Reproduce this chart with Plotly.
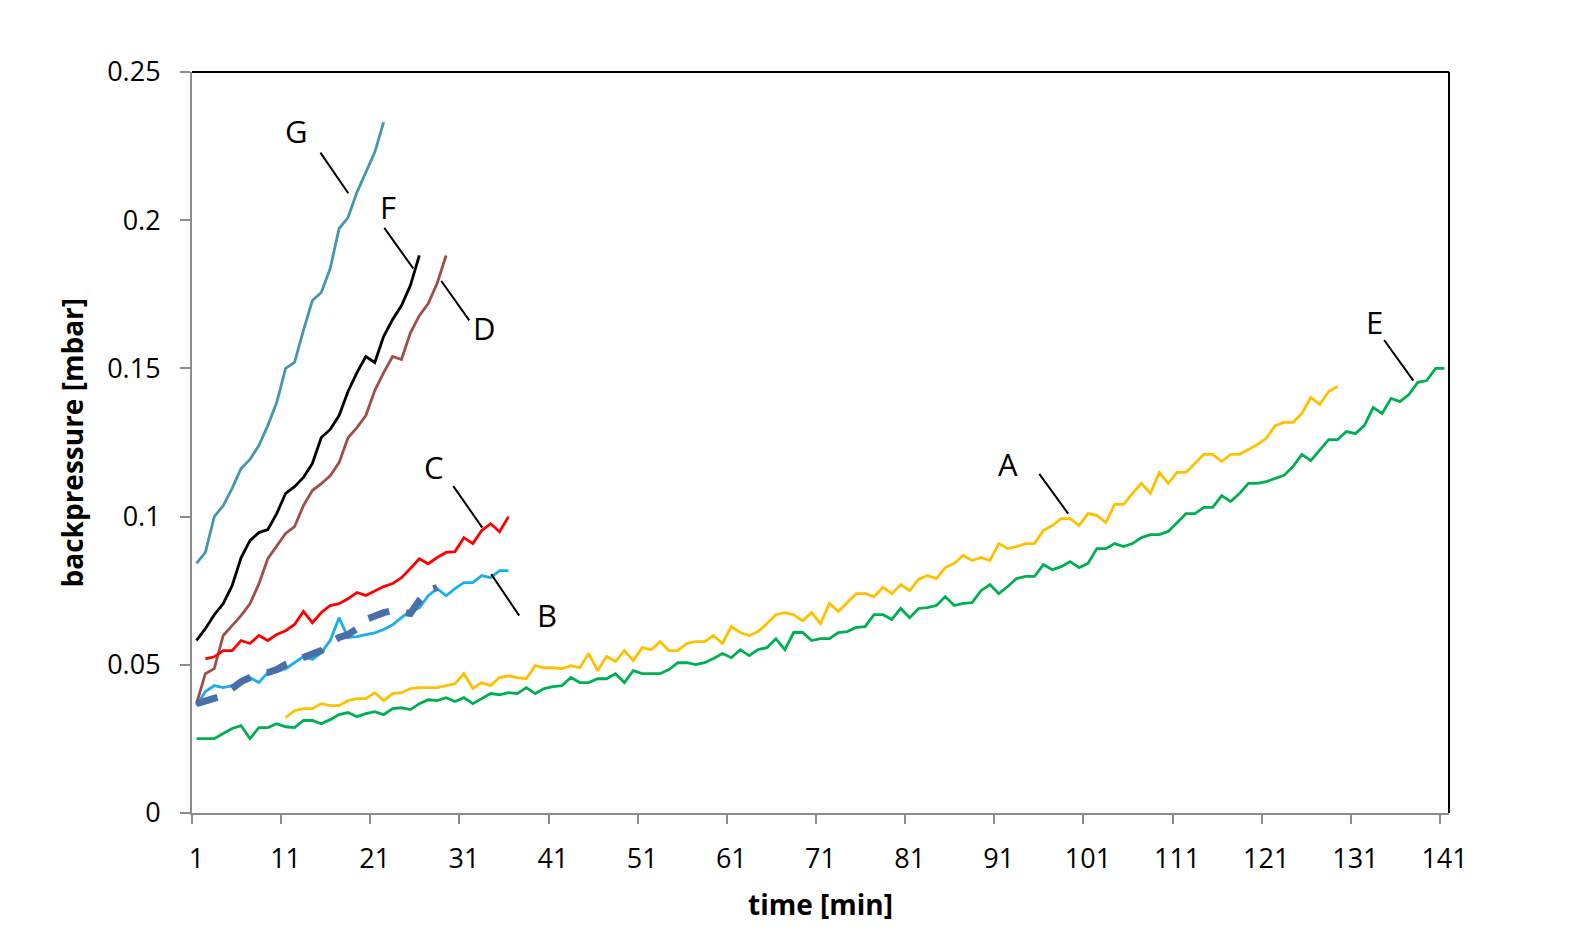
import plotly.graph_objects as go

# ---------------- data (backpressure in mbar, one value per minute) ----------------
G_start = 1
G_vals = [0.0842, 0.0879, 0.1000, 0.1037, 0.1095, 0.1162, 0.1193, 0.1240, 0.1307, 0.1385,
          0.1500, 0.1520, 0.1628, 0.1729, 0.1756, 0.1837, 0.1972, 0.2009, 0.2094, 0.2162,
          0.2229, 0.2331]

F_start = 1
F_vals = [0.0582, 0.0622, 0.0669, 0.0706, 0.0767, 0.0861, 0.0919, 0.0946, 0.0956, 0.1010,
          0.1078, 0.1101, 0.1132, 0.1179, 0.1267, 0.1294, 0.1341, 0.1422, 0.1486, 0.1540,
          0.1520, 0.1608, 0.1665, 0.1712, 0.1780, 0.1881]

D_start = 1
D_vals = [0.0368, 0.0470, 0.0487, 0.0599, 0.0632, 0.0666, 0.0706, 0.0773, 0.0858, 0.0902,
          0.0943, 0.0966, 0.1037, 0.1088, 0.1111, 0.1138, 0.1182, 0.1266, 0.1300, 0.1341,
          0.1425, 0.1486, 0.1540, 0.1530, 0.1620, 0.1678, 0.1719, 0.1787, 0.1881]

C_start = 2
C_vals = [0.0520, 0.0527, 0.0548, 0.0548, 0.0582, 0.0572, 0.0599, 0.0582, 0.0602,
          0.0615, 0.0636, 0.0680, 0.0642, 0.0676, 0.0700, 0.0706, 0.0723, 0.0744, 0.0734,
          0.0750, 0.0764, 0.0774, 0.0794, 0.0825, 0.0858, 0.0841, 0.0862, 0.0879, 0.0882,
          0.0929, 0.0909, 0.0953, 0.0976, 0.0949, 0.1000]

B_start = 1
B_vals = [0.0362, 0.0410, 0.0430, 0.0423, 0.0430, 0.0440, 0.0457, 0.0440, 0.0474, 0.0477,
          0.0487, 0.0507, 0.0528, 0.0518, 0.0541, 0.0582, 0.0659, 0.0592, 0.0595, 0.0602,
          0.0608, 0.0619, 0.0635, 0.0659, 0.0682, 0.0692, 0.0733, 0.0757, 0.0733, 0.0757,
          0.0777, 0.0777, 0.0801, 0.0794, 0.0818, 0.0818]

Bfit_start = 1
Bfit_vals = [0.0369, 0.0376, 0.0383, 0.0396, 0.0420, 0.0443, 0.0457, 0.0470, 0.0474, 0.0484,
             0.0501, 0.0514, 0.0524, 0.0538, 0.0548, 0.0575, 0.0592, 0.0602, 0.0622, 0.0653,
             0.0666, 0.0676, 0.0683, 0.0679, 0.0673, 0.0717, 0.0750, 0.0761]

A_start = 11
A_vals = [0.0322, 0.0345, 0.0352, 0.0352, 0.0369, 0.0362, 0.0362, 0.0379, 0.0386, 0.0386,
          0.0406, 0.0379, 0.0403, 0.0406, 0.0420, 0.0423, 0.0423, 0.0423, 0.0430, 0.0436,
          0.0470, 0.0420, 0.0440, 0.0430, 0.0457, 0.0463, 0.0457, 0.0453, 0.0497, 0.0490,
          0.0490, 0.0487, 0.0497, 0.0490, 0.0538, 0.0480, 0.0528, 0.0511, 0.0548, 0.0514,
          0.0558, 0.0551, 0.0578, 0.0548, 0.0548, 0.0572, 0.0578, 0.0578, 0.0599, 0.0572,
          0.0629, 0.0609, 0.0599, 0.0612, 0.0639, 0.0669, 0.0676, 0.0669, 0.0649, 0.0676,
          0.0639, 0.0707, 0.0680, 0.0710, 0.0740, 0.0740, 0.0730, 0.0761, 0.0740, 0.0771,
          0.0750, 0.0788, 0.0801, 0.0791, 0.0828, 0.0842, 0.0869, 0.0852, 0.0862, 0.0852,
          0.0909, 0.0892, 0.0899, 0.0909, 0.0909, 0.0953, 0.0970, 0.0993, 0.0993, 0.0970,
          0.1010, 0.1004, 0.0980, 0.1041, 0.1041, 0.1078, 0.1112, 0.1078, 0.1149, 0.1112,
          0.1149, 0.1149, 0.1179, 0.1210, 0.1210, 0.1186, 0.1210, 0.1210, 0.1226, 0.1243,
          0.1264, 0.1307, 0.1318, 0.1318, 0.1348, 0.1402, 0.1378, 0.1422, 0.1439]

E_start = 1
E_vals = [0.0251, 0.0251, 0.0251, 0.0268, 0.0285, 0.0295, 0.0251, 0.0288, 0.0288, 0.0301,
          0.0291, 0.0288, 0.0312, 0.0312, 0.0301, 0.0315, 0.0332, 0.0339, 0.0325, 0.0335,
          0.0342, 0.0332, 0.0352, 0.0355, 0.0349, 0.0369, 0.0382, 0.0379, 0.0389, 0.0376,
          0.0389, 0.0369, 0.0386, 0.0403, 0.0399, 0.0406, 0.0403, 0.0423, 0.0403, 0.0420,
          0.0426, 0.0430, 0.0457, 0.0440, 0.0440, 0.0453, 0.0453, 0.0470, 0.0440, 0.0480,
          0.0470, 0.0470, 0.0470, 0.0484, 0.0507, 0.0507, 0.0501, 0.0507, 0.0521, 0.0538,
          0.0524, 0.0551, 0.0531, 0.0551, 0.0558, 0.0588, 0.0551, 0.0609, 0.0609, 0.0582,
          0.0588, 0.0588, 0.0609, 0.0612, 0.0626, 0.0629, 0.0669, 0.0669, 0.0653, 0.0690,
          0.0659, 0.0690, 0.0693, 0.0700, 0.0730, 0.0700, 0.0707, 0.0710, 0.0750, 0.0771,
          0.0740, 0.0764, 0.0791, 0.0798, 0.0798, 0.0838, 0.0821, 0.0831, 0.0848, 0.0828,
          0.0842, 0.0892, 0.0892, 0.0909, 0.0899, 0.0909, 0.0929, 0.0939, 0.0939, 0.0950,
          0.0980, 0.1010, 0.1010, 0.1031, 0.1031, 0.1071, 0.1051, 0.1078, 0.1112, 0.1112,
          0.1118, 0.1128, 0.1139, 0.1169, 0.1210, 0.1189, 0.1226, 0.1260, 0.1260, 0.1287,
          0.1280, 0.1307, 0.1368, 0.1348, 0.1399, 0.1388, 0.1412, 0.1453, 0.1459, 0.1500,
          0.1500]

x_tick_labels = [str(v) for v in range(1, 142, 10)]
y_tick_vals = [0, 0.05, 0.1, 0.15, 0.2, 0.25]
y_tick_text = ["0", "0.05", "0.1", "0.15", "0.2", "0.25"]

# label letters: (text, label x, label y, leader start x, y, leader end x, y)
labels = [
    ("G", 12.25, 0.2302, 14.79, 0.2233, 18.03, 0.2091),
    ("F", 22.46, 0.2043, 21.95, 0.1979, 25.32, 0.1837),
    ("D", 33.28, 0.1635, 28.35, 0.1800, 31.60, 0.1662),
    ("C", 27.67, 0.1166, 29.69, 0.1108, 33.06, 0.0963),
    ("B", 40.29, 0.0669, 33.95, 0.0811, 37.20, 0.0666),
    ("A", 92.04, 0.1179, 95.42, 0.1149, 98.78, 0.1010),
    ("E", 133.09, 0.1658, 134.10, 0.1601, 137.50, 0.1459),
]

FONT = "Open Sans"

series = [
    ("E", E_start, E_vals, "#00B050", 2.8, "solid"),
    ("A", A_start, A_vals, "#FFC000", 2.8, "solid"),
    ("G", G_start, G_vals, "#4696AC", 2.8, "solid"),
    ("F", F_start, F_vals, "#000000", 2.8, "solid"),
    ("D", D_start, D_vals, "#A04E4A", 2.8, "solid"),
    ("C", C_start, C_vals, "#FF0000", 2.8, "solid"),
    ("B", B_start, B_vals, "#1AAEEB", 2.8, "solid"),
    ("B trend", Bfit_start, Bfit_vals, "#4A6EA8", 7, "22px,17px"),
]

fig = go.Figure()
for name, start, vals, color, width, dash in series:
    fig.add_trace(go.Scatter(
        x=list(range(start, start + len(vals))), y=vals, mode="lines", name=name,
        line=dict(color=color, width=width, dash=dash), showlegend=False,
    ))

annotations = []
for txt, lx, ly, sx, sy, ex, ey in labels:
    annotations.append(dict(x=lx, y=ly, xref="x", yref="y", text=txt, showarrow=False,
                            font=dict(family=FONT, size=31, color="#000000"),
                            xanchor="center", yanchor="middle"))
    annotations.append(dict(x=ex, y=ey, xref="x", yref="y", ax=sx, ay=sy, axref="x", ayref="y",
                            text="", showarrow=True, arrowhead=0, arrowwidth=2,
                            arrowcolor="#000000"))

annotations.append(dict(x=-0.0955, y=0.5, xref="paper", yref="paper", text="<b>backpressure [mbar]</b>",
                        textangle=-90, showarrow=False, font=dict(family=FONT, size=28, color="#000000"),
                        xanchor="center", yanchor="middle"))
annotations.append(dict(x=0.5, y=-0.1225, xref="paper", yref="paper", text="<b>time [min]</b>",
                        showarrow=False, font=dict(family=FONT, size=28, color="#000000"),
                        xanchor="center", yanchor="middle"))

AX = "#8C8C8C"
fig.update_layout(
    width=1563, height=939,
    margin=dict(l=184, r=122, t=64, b=134),
    paper_bgcolor="#FFFFFF", plot_bgcolor="#FFFFFF",
    font=dict(family=FONT, size=27, color="#000000"),
    annotations=annotations,
    shapes=[
        dict(type="line", xref="paper", yref="paper", x0=0, x1=1, y0=1, y1=1,
             line=dict(color="#000000", width=2)),
        dict(type="line", xref="paper", yref="paper", x0=1, x1=1, y0=0, y1=1,
             line=dict(color="#000000", width=2)),
    ],
    xaxis=dict(
        range=[0.5, 141.5], showgrid=False, zeroline=False,
        showline=True, linecolor=AX, linewidth=2,
        tickmode="array", tickvals=list(range(1, 142, 10)), ticktext=x_tick_labels,
        ticks="", ticklabelstandoff=21,
        tickfont=dict(family=FONT, size=27, color="#000000"),
        minor=dict(tickmode="array", tickvals=[v - 0.5 for v in range(1, 142, 10)],
                   ticks="outside", ticklen=9, tickwidth=2, tickcolor=AX, showgrid=False),
    ),
    yaxis=dict(
        range=[0, 0.25], showgrid=False, zeroline=False,
        showline=True, linecolor=AX, linewidth=2,
        tickmode="array", tickvals=y_tick_vals, ticktext=y_tick_text,
        ticks="outside", ticklen=10, tickwidth=2, tickcolor=AX, ticklabelstandoff=14,
        tickfont=dict(family=FONT, size=27, color="#000000"),
    ),
)

fig.write_html("out.html")
